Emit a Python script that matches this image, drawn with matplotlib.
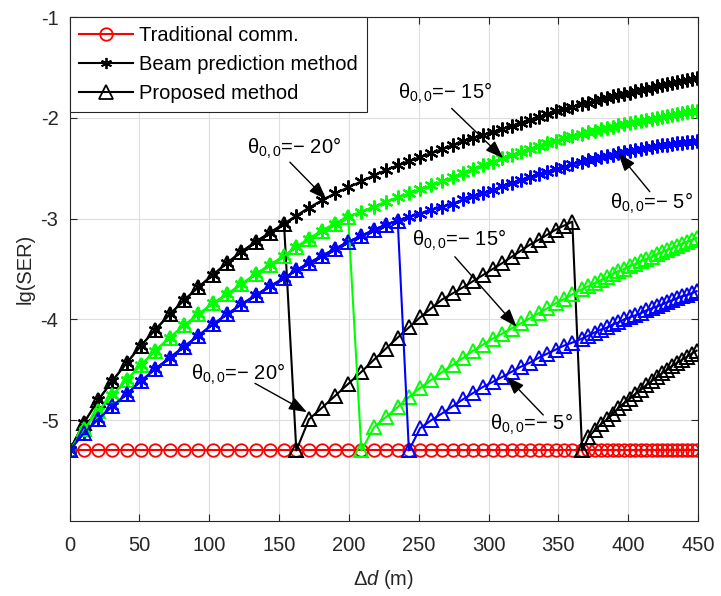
import matplotlib.pyplot as plt
from matplotlib.lines import Line2D

# sample positions along the route (m)
d = [0, 10.2, 20.5, 30.7, 41, 51.2, 61.5, 71.7, 82, 92.2, 102.5, 112.7, 123, 133.2, 143.4,
     153.6, 162.4, 171.5, 180.5, 190, 199.5, 209, 218, 226.5, 235, 243, 251, 259, 267,
     274.5, 282, 289, 296, 303, 310, 316.5, 323, 329.5, 336, 342, 348, 354, 360,
     367, 371.5, 376, 380.5, 385, 389, 393, 397, 401, 405, 409, 413, 417, 421, 424.5,
     428, 431.5, 435, 438.5, 442, 445.5, 449]

# traditional communication (flat)
trad = [-5.3] * len(d)

# beam prediction method, theta = -20, -15, -5 deg
beam_20 = [-5.30, -5.03, -4.80, -4.61, -4.43, -4.26, -4.10, -3.95, -3.81, -3.68, -3.56, -3.44,
           -3.33, -3.23, -3.14, -3.05, -2.97, -2.89, -2.82, -2.75, -2.69, -2.63, -2.57, -2.52,
           -2.47, -2.43, -2.39, -2.35, -2.31,
           -2.27, -2.23, -2.20, -2.17, -2.14, -2.11, -2.08, -2.05, -2.02, -1.99, -1.96, -1.93,
           -1.91, -1.89,
           -1.86, -1.85, -1.83, -1.81, -1.80, -1.78, -1.77, -1.76, -1.75, -1.73, -1.72, -1.71,
           -1.70, -1.68, -1.67, -1.66, -1.65, -1.64, -1.63, -1.62, -1.61, -1.60]
beam_15 = [-5.30, -5.09, -4.91, -4.75, -4.60, -4.45, -4.31, -4.18, -4.06, -3.95, -3.84, -3.75,
           -3.65, -3.55, -3.46, -3.37, -3.28, -3.20, -3.12, -3.05, -2.98, -2.93, -2.88, -2.83,
           -2.79, -2.75, -2.71, -2.67, -2.63,
           -2.59, -2.55, -2.51, -2.47, -2.44, -2.40, -2.37, -2.34, -2.31, -2.28, -2.25, -2.23,
           -2.20, -2.18,
           -2.16, -2.14, -2.13, -2.11, -2.10, -2.09, -2.07, -2.06, -2.05, -2.04, -2.03, -2.02,
           -2.01, -2.00, -1.99, -1.98, -1.97, -1.96, -1.95, -1.94, -1.935, -1.93]
beam_5 = [-5.30, -5.13, -4.99, -4.86, -4.74, -4.61, -4.49, -4.38, -4.27, -4.16, -4.05, -3.95,
          -3.85, -3.76, -3.67, -3.59, -3.51, -3.44, -3.37, -3.30, -3.23, -3.17, -3.11, -3.06,
          -3.02, -2.98, -2.95, -2.91, -2.88,
          -2.85, -2.81, -2.78, -2.75, -2.72, -2.68, -2.65, -2.62, -2.59, -2.56, -2.54, -2.51,
          -2.49, -2.46,
          -2.44, -2.42, -2.41, -2.39, -2.38, -2.37, -2.35, -2.34, -2.33, -2.32, -2.31, -2.30,
          -2.29, -2.28, -2.27, -2.265, -2.26, -2.25, -2.245, -2.24, -2.235, -2.23]

# proposed method: follows beam prediction, then resets after each beam training
prop_20 = beam_20[:16] + [-5.30, -4.99, -4.88, -4.76, -4.64, -4.52, -4.40, -4.29, -4.18, -4.08,
                          -3.98, -3.89, -3.80,
                          -3.74, -3.68, -3.62, -3.56, -3.50, -3.44, -3.38, -3.32, -3.26, -3.21,
                          -3.16, -3.11, -3.07, -3.03,
                          -5.30, -5.17, -5.10, -5.04, -4.99, -4.94, -4.88, -4.83, -4.79, -4.74,
                          -4.70, -4.65, -4.61, -4.57, -4.53, -4.50, -4.46, -4.43, -4.40, -4.37,
                          -4.34, -4.31]
prop_15 = beam_15[:21] + [-5.30, -5.07, -4.97, -4.87, -4.77, -4.68, -4.60, -4.52,
                          -4.45, -4.38, -4.31, -4.25, -4.19, -4.14, -4.09, -4.04, -3.99, -3.94,
                          -3.89, -3.84, -3.80, -3.75,
                          -3.70, -3.67, -3.64, -3.61, -3.58, -3.55, -3.52, -3.50, -3.47, -3.45,
                          -3.42, -3.40, -3.38, -3.35, -3.33, -3.31, -3.29, -3.27, -3.25, -3.23,
                          -3.21, -3.19]
prop_5 = beam_5[:25] + [-5.30, -5.08, -5.00, -4.93,
                        -4.86, -4.79, -4.73, -4.67, -4.62, -4.57, -4.52, -4.47, -4.43, -4.38,
                        -4.34, -4.30, -4.26, -4.23,
                        -4.19, -4.16, -4.13, -4.10, -4.08, -4.05, -4.03, -4.00, -3.98, -3.96,
                        -3.94, -3.91, -3.89, -3.87, -3.85, -3.83, -3.81, -3.79, -3.77, -3.76,
                        -3.74, -3.72]

colors = ['k', (0, 1, 0), 'b']
legend_labels = ['Traditional comm.', 'Beam prediction method', 'Proposed method']
ann_labels = ['=\u2212 20°', '=\u2212 15°', '=\u2212 5°', '=\u2212 15°', '=\u2212 20°', '=\u2212 5°']

plt.rcParams['font.family'] = ['Liberation Sans', 'DejaVu Sans']
plt.rcParams['mathtext.fontset'] = 'custom'
plt.rcParams['mathtext.rm'] = 'Liberation Sans'
plt.rcParams['mathtext.it'] = 'Liberation Sans:italic'
plt.rcParams['font.size'] = 14.5
plt.rcParams['axes.unicode_minus'] = False

fig = plt.figure(figsize=(7.21, 5.96), dpi=100)
ax = fig.add_axes([0.0964, 0.1258, 0.8717, 0.8456])

ast = (6, 2, 0)
ax.plot(d, trad, '-o', color='r', mfc='none', ms=9, mew=1.3, lw=1.5)
for y, c in zip([beam_20, beam_15, beam_5], colors):
    ax.plot(d, y, '-', marker=ast, color=c, ms=10, mew=1.6, lw=1.5)
for y, c in zip([prop_20, prop_15, prop_5], colors):
    ax.plot(d, y, '-^', color=c, mfc='none', ms=10, mew=1.4, lw=1.5)

# annotations: text position (left, baseline), arrow tail, arrow tip
texts = [(126.8, -2.352), (235.4, -1.807), (386.9, -2.898),
         (244.9, -3.272), (86.8, -4.601), (301.0, -5.097)]
tails = [(157.8, -2.44), (273.6, -1.906), (415.5, -2.733),
         (275.9, -3.378), (132.8, -4.634), (339.2, -4.948)]
tips = [(184, -2.81), (310.5, -2.40), (392.9, -2.352),
        (320.1, -4.072), (170, -4.92), (312.9, -4.568)]
for lab, t, a, b in zip(ann_labels, texts, tails, tips):
    ax.text(t[0], t[1], '$\\mathregular{θ_{0,0}}$' + lab, ha='left', va='baseline')
    ax.annotate('', xy=b, xytext=a,
                arrowprops=dict(arrowstyle='-|>,head_length=1.1,head_width=0.4',
                                color='k', lw=1, mutation_scale=10, shrinkA=0, shrinkB=0))

ax.set_xlim(0, 450)
ax.set_ylim(-6, -1)
ax.set_xticks(range(0, 451, 50))
ax.set_yticks([-5, -4, -3, -2, -1])
ax.grid(True, color='0.87', lw=0.8)
ax.set_axisbelow(True)
ax.tick_params(direction='in', top=True, right=True, length=5, colors='0.15', pad=8)
ax.tick_params(axis='x', pad=11)
for s in ax.spines.values():
    s.set_color('0.15')
    s.set_linewidth(0.8)
ax.set_xlabel('Δ$\\it{d}$ (m)', color='0.15', labelpad=9)
ax.set_ylabel('lg(SER)', color='0.15')

h = [Line2D([], [], color='r', marker='o', mfc='none', ms=9, mew=1.3, lw=1.5),
     Line2D([], [], color='k', marker=ast, ms=8, mew=1.3, lw=1.5),
     Line2D([], [], color='k', marker='^', mfc='none', ms=10, mew=1.3, lw=1.5)]
leg = ax.legend(h, legend_labels, loc='upper left', bbox_to_anchor=(0, 1), borderaxespad=0,
                fancybox=False, edgecolor='0.15', framealpha=1, handlelength=2.7,
                labelspacing=0.5, handletextpad=0.3, borderpad=0.45)
leg.get_frame().set_linewidth(0.8)

fig.savefig('out.png', dpi=100)
